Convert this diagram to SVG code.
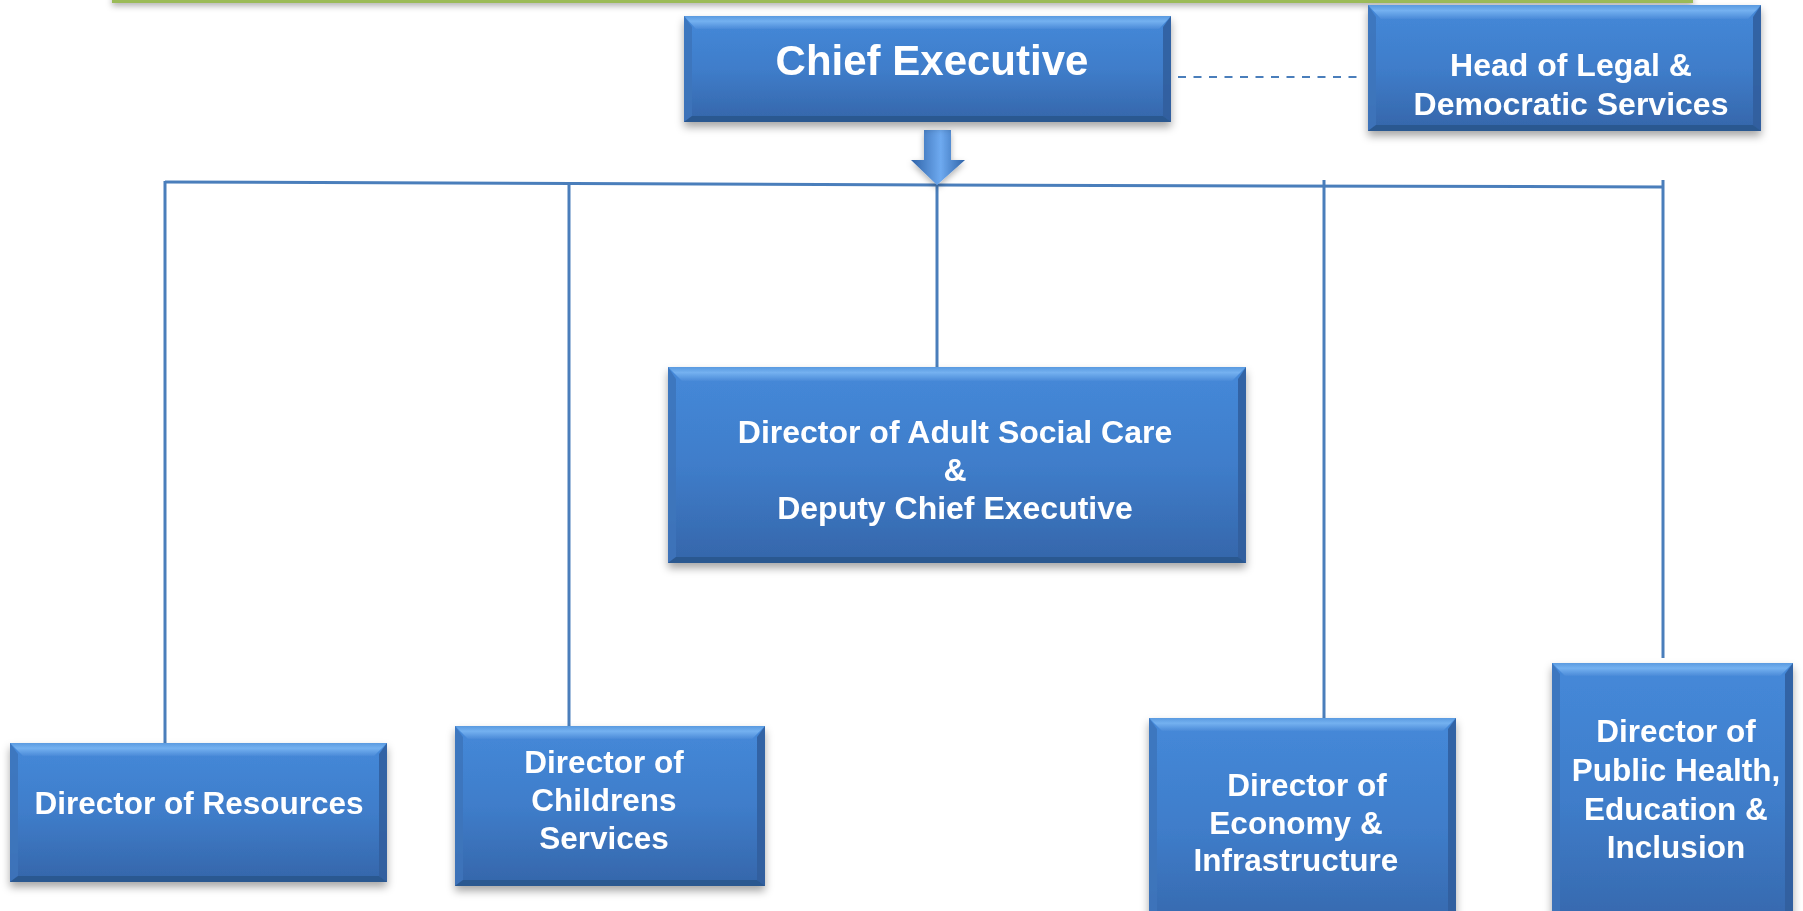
<svg xmlns="http://www.w3.org/2000/svg" width="1803" height="911" viewBox="0 0 1803 911">
<style>
.face{fill:url(#faceG)}
.bt{fill:url(#topG)}
.bl{fill:#3d74bb;opacity:.85}
.br{fill:#2f5e9c;opacity:.85}
.bb{fill:#2c5890}
.lbl{font-family:"Liberation Sans",Arial,sans-serif;font-weight:bold;fill:#fff;text-anchor:middle}
.conn{stroke:#4a7ebb;stroke-width:3;fill:none}
.dash{stroke:#4a7ebb;stroke-width:2;fill:none;stroke-dasharray:8 7.5}
</style>
<defs>
<linearGradient id="faceG" x1="0" y1="0" x2="0" y2="1">
<stop offset="0" stop-color="#4589d9"/>
<stop offset="0.5" stop-color="#3f7dca"/>
<stop offset="1" stop-color="#3566aa"/>
</linearGradient>
<linearGradient id="topG" x1="0" y1="0" x2="0" y2="1">
<stop offset="0" stop-color="#5a9ae0"/>
<stop offset="0.4" stop-color="#74b1f0"/>
<stop offset="1" stop-color="#4a8ad8"/>
</linearGradient>
<linearGradient id="arrG" x1="0" y1="0" x2="1" y2="0">
<stop offset="0" stop-color="#2f63a8"/>
<stop offset="0.55" stop-color="#6eaaf0"/>
<stop offset="1" stop-color="#2f63a8"/>
</linearGradient>
<filter id="sh" x="-10%" y="-20%" width="120%" height="150%">
<feDropShadow dx="0" dy="5" stdDeviation="4" flood-color="#000" flood-opacity="0.35"/>
</filter>
<filter id="shs" x="-10%" y="-100%" width="120%" height="400%">
<feDropShadow dx="0" dy="3" stdDeviation="3" flood-color="#000" flood-opacity="0.3"/>
</filter>
</defs>
<rect width="1803" height="911" fill="#fff"/>
<rect x="112" y="-6" width="1581" height="9" fill="#9bbb59" filter="url(#shs)"/>

<g id="connectors">
<polyline class="conn" points="165,182 937,185 1663,187"/>
<line class="conn" x1="165" y1="181" x2="165" y2="743"/>
<line class="conn" x1="569" y1="185" x2="569" y2="726"/>
<line class="conn" x1="937" y1="185" x2="937" y2="367"/>
<line class="conn" x1="1324" y1="180" x2="1324" y2="718"/>
<line class="conn" x1="1663" y1="180" x2="1663" y2="658"/>
<line class="dash" x1="1178" y1="77" x2="1362" y2="77"/>
<polygon points="924,130 951,130 951,160 965,160 937,185 911,160 924,160" fill="url(#arrG)" filter="url(#shs)"/>
</g>

<g id="chief" filter="url(#sh)">
<rect class="face" x="684" y="16" width="487" height="106"/>
<polygon class="bt" points="684,16 1171,16 1159,29 696,29"/>
<polygon class="bl" points="684,16 692,27 692,116 684,122"/>
<polygon class="br" points="1171,16 1163,27 1163,116 1171,122"/>
<polygon class="bb" points="684,122 692,116 1163,116 1171,122"/>
<text class="lbl" x="932" y="75" font-size="42">Chief Executive</text>
</g>

<g id="legal" filter="url(#sh)">
<rect class="face" x="1368" y="5" width="393" height="126"/>
<polygon class="bt" points="1368,5 1761,5 1748,19 1381,19"/>
<polygon class="bl" points="1368,5 1376,17 1376,125 1368,131"/>
<polygon class="br" points="1761,5 1753,17 1753,125 1761,131"/>
<polygon class="bb" points="1368,131 1376,125 1753,125 1761,131"/>
<text class="lbl" x="1571" y="76" font-size="32">Head of Legal &amp;</text>
<text class="lbl" x="1571" y="115" font-size="32">Democratic Services</text>
</g>

<g id="adult" filter="url(#sh)">
<rect class="face" x="668" y="367" width="578" height="196"/>
<polygon class="bt" points="668,367 1246,367 1232,381 682,381"/>
<polygon class="bl" points="668,367 676,379 676,557 668,563"/>
<polygon class="br" points="1246,367 1238,379 1238,557 1246,563"/>
<polygon class="bb" points="668,563 676,557 1238,557 1246,563"/>
<text class="lbl" x="955" y="443" font-size="32">Director of Adult Social Care</text>
<text class="lbl" x="955" y="481" font-size="32">&amp;</text>
<text class="lbl" x="955" y="519" font-size="32">Deputy Chief Executive</text>
</g>

<g id="resources" filter="url(#sh)">
<rect class="face" x="10" y="743" width="377" height="139"/>
<polygon class="bt" points="10,743 387,743 374,756 23,756"/>
<polygon class="bl" points="10,743 18,754 18,876 10,882"/>
<polygon class="br" points="387,743 379,754 379,876 387,882"/>
<polygon class="bb" points="10,882 18,876 379,876 387,882"/>
<text class="lbl" x="199" y="814" font-size="31.5">Director of Resources</text>
</g>

<g id="childrens" filter="url(#sh)">
<rect class="face" x="455" y="726" width="310" height="160"/>
<polygon class="bt" points="455,726 765,726 752,739 468,739"/>
<polygon class="bl" points="455,726 463,737 463,880 455,886"/>
<polygon class="br" points="765,726 757,737 757,880 765,886"/>
<polygon class="bb" points="455,886 463,880 757,880 765,886"/>
<text class="lbl" x="604" y="773" font-size="31.5">Director of</text>
<text class="lbl" x="604" y="811" font-size="31.5">Childrens</text>
<text class="lbl" x="604" y="849" font-size="31.5">Services</text>
</g>

<g id="economy" filter="url(#sh)">
<rect class="face" x="1149" y="718" width="307" height="220"/>
<polygon class="bt" points="1149,718 1456,718 1443,731 1162,731"/>
<polygon class="bl" points="1149,718 1157,729 1157,938 1149,938"/>
<polygon class="br" points="1456,718 1448,729 1448,938 1456,938"/>
<text class="lbl" x="1307" y="796" font-size="31.5">Director of</text>
<text class="lbl" x="1296" y="834" font-size="31.5">Economy &amp;</text>
<text class="lbl" x="1296" y="871" font-size="31.5">Infrastructure</text>
</g>

<g id="publichealth" filter="url(#sh)">
<rect class="face" x="1552" y="663" width="241" height="275"/>
<polygon class="bt" points="1552,663 1793,663 1780,676 1565,676"/>
<polygon class="bl" points="1552,663 1560,674 1560,938 1552,938"/>
<polygon class="br" points="1793,663 1785,674 1785,938 1793,938"/>
<text class="lbl" x="1676" y="742" font-size="31.5">Director of</text>
<text class="lbl" x="1676" y="781" font-size="31.5">Public Health,</text>
<text class="lbl" x="1676" y="820" font-size="31.5">Education &amp;</text>
<text class="lbl" x="1676" y="858" font-size="31.5">Inclusion</text>
</g>
</svg>
